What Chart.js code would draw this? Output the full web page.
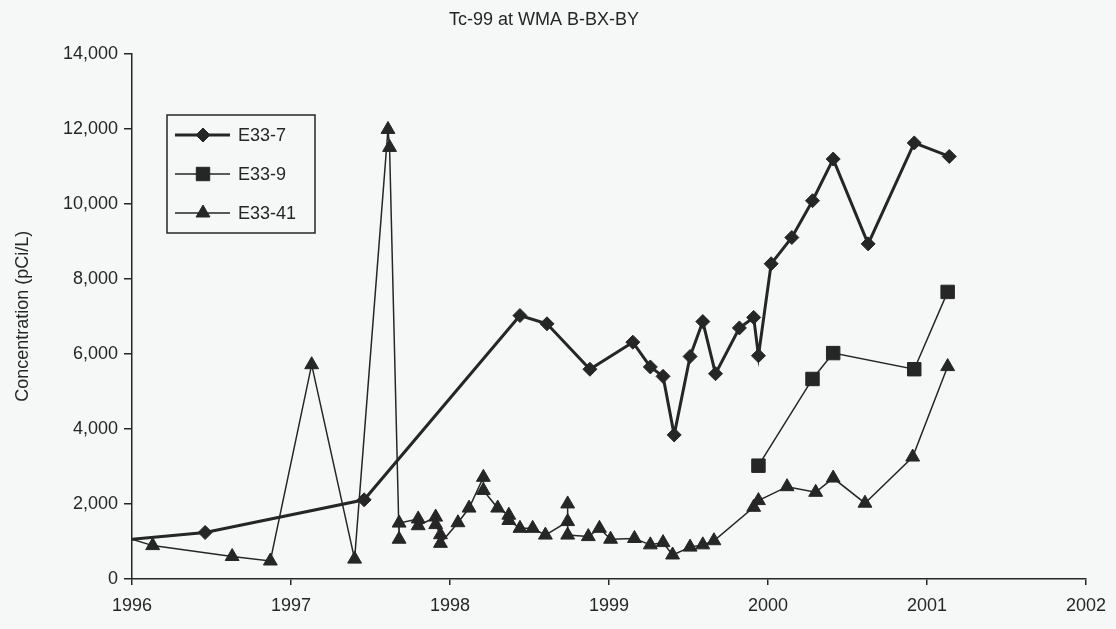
<!DOCTYPE html>
<html>
<head>
<meta charset="utf-8">
<title>Tc-99 at WMA B-BX-BY</title>
<script src="https://cdn.jsdelivr.net/npm/chart.js@4/dist/chart.umd.min.js"></script>
<style>
  html, body { margin: 0; padding: 0; background: #f6f8f7; }
  #wrap { width: 1116px; height: 629px; position: relative; }
</style>
</head>
<body>
<div id="wrap"><canvas id="chart"></canvas></div>
<script>
// sample dates as decimal years, concentration in pCi/L
const e33_7Dates = [1996.00, 1996.46, 1997.46, 1998.44, 1998.61, 1998.88, 1999.15, 1999.26, 1999.34, 1999.41,
                    1999.51, 1999.59, 1999.67, 1999.82, 1999.91, 1999.94, 2000.02, 2000.15, 2000.28, 2000.41,
                    2000.63, 2000.92, 2001.14];
const e33_7Values = [1060, 1240, 2110, 7020, 6800, 5590, 6310, 5650, 5400, 3840,
                     5930, 6860, 5470, 6690, 6970, 5950, 8400, 9100, 10080, 11190,
                     8930, 11620, 11260];

const e33_9Dates = [1999.94, 2000.28, 2000.41, 2000.92, 2001.13];
const e33_9Values = [3020, 5330, 6020, 5590, 7650];

const e33_41Dates = [1996.00, 1996.13, 1996.63, 1996.87, 1997.13, 1997.40, 1997.61, 1997.62, 1997.68, 1997.68,
                     1997.80, 1997.80, 1997.91, 1997.91, 1997.94, 1997.94, 1998.05, 1998.12, 1998.21, 1998.21,
                     1998.30, 1998.37, 1998.37, 1998.44, 1998.52, 1998.60, 1998.74, 1998.74, 1998.74, 1998.87,
                     1998.94, 1999.01, 1999.16, 1999.26, 1999.34, 1999.40, 1999.51, 1999.59, 1999.66, 1999.91,
                     1999.94, 2000.12, 2000.30, 2000.41, 2000.61, 2000.91, 2001.13];
const e33_41Values = [1060, 890, 600, 480, 5710, 530, 11980, 11500, 1060, 1490,
                      1600, 1420, 1650, 1450, 1180, 950, 1500, 1890, 2710, 2360,
                      1890, 1700, 1560, 1350, 1350, 1170, 1530, 2000, 1170, 1130,
                      1350, 1060, 1080, 910, 970, 640, 850, 910, 1020, 1910,
                      2090, 2460, 2310, 2690, 2020, 3250, 5660];

const seriesNames = ["E33-7", "E33-9", "E33-41"];

const INK = "#262626";
const PAPER = "#f6f8f7";
const FONT = "'Liberation Sans', Arial, sans-serif";

function toPoints(dates, values) {
    return dates.map((d, i) => ({ x: d, y: values[i] }));
}

// the first readings sit on the axis line and show no marker
function radiusOff(r) {
    return ctx => (ctx.raw && ctx.raw.x <= 1996 ? 0 : r);
}

const paperBg = {
    id: "paperBg",
    beforeDraw(chart) {
        const ctx = chart.ctx;
        ctx.save();
        ctx.fillStyle = PAPER;
        ctx.fillRect(0, 0, chart.width, chart.height);
        ctx.restore();
    }
};

// boxed legend inside the plot, upper left
const boxLegend = {
    id: "boxLegend",
    afterDraw(chart) {
        const ctx = chart.ctx;
        const x0 = 167, y0 = 115, w = 148, h = 118;
        ctx.save();
        ctx.fillStyle = PAPER;
        ctx.fillRect(x0, y0, w, h);
        ctx.strokeStyle = INK;
        ctx.lineWidth = 1.5;
        ctx.strokeRect(x0, y0, w, h);
        chart.data.datasets.forEach((ds, i) => {
            const y = y0 + 20 + i * 39;
            ctx.beginPath();
            ctx.moveTo(x0 + 8, y);
            ctx.lineTo(x0 + 63, y);
            ctx.lineWidth = ds.borderWidth;
            ctx.strokeStyle = ds.borderColor;
            ctx.stroke();
            ctx.fillStyle = INK;
            ctx.strokeStyle = INK;
            ctx.lineWidth = 1;
            Chart.helpers.drawPoint(ctx, {
                pointStyle: ds.pointStyle,
                radius: ds.legendRadius,
                borderWidth: 1,
                rotation: 0
            }, x0 + 36, y);
            ctx.fillStyle = INK;
            ctx.font = "18px " + FONT;
            ctx.textBaseline = "middle";
            ctx.fillText(ds.label, x0 + 71, y + 1);
        });
        ctx.restore();
    }
};

new Chart(document.getElementById("chart"), {
    type: "line",
    data: {
        datasets: [
            {
                label: seriesNames[0],
                data: toPoints(e33_7Dates, e33_7Values),
                borderColor: INK,
                backgroundColor: INK,
                borderWidth: 3,
                pointStyle: "rectRot",
                pointRadius: radiusOff(7),
                legendRadius: 7,
                pointBorderWidth: 1,
                tension: 0
            },
            {
                label: seriesNames[1],
                data: toPoints(e33_9Dates, e33_9Values),
                borderColor: INK,
                backgroundColor: INK,
                borderWidth: 1.5,
                pointStyle: "rect",
                pointRadius: 9.5,
                legendRadius: 9.5,
                pointBorderWidth: 1,
                tension: 0
            },
            {
                label: seriesNames[2],
                data: toPoints(e33_41Dates, e33_41Values),
                borderColor: INK,
                backgroundColor: INK,
                borderWidth: 1.5,
                pointStyle: "triangle",
                pointRadius: radiusOff(8),
                legendRadius: 8,
                pointBorderWidth: 1,
                tension: 0
            }
        ]
    },
    options: {
        responsive: true,
        maintainAspectRatio: false,
        animation: false,
        layout: { padding: { left: 0, right: 28, top: 0, bottom: 0 } },
        plugins: {
            legend: { display: false },
            tooltip: { enabled: false },
            title: {
                display: true,
                text: "Tc-99 at WMA B-BX-BY",
                color: INK,
                font: { family: FONT, size: 18, weight: "normal" },
                padding: { top: 9, bottom: 23 }
            }
        },
        scales: {
            x: {
                type: "linear",
                min: 1996,
                max: 2002,
                afterFit: s => { s.height = 50; },
                grid: { drawOnChartArea: false, drawTicks: true, tickLength: 6, color: INK, lineWidth: 1.5 },
                border: { display: true, color: INK, width: 1.5 },
                ticks: {
                    stepSize: 1,
                    color: INK,
                    padding: 10,
                    maxRotation: 0,
                    font: { family: FONT, size: 18 },
                    callback: v => String(v)
                }
            },
            y: {
                min: 0,
                max: 14000,
                afterFit: s => { s.width = 132; },
                grid: { drawOnChartArea: false, drawTicks: true, tickLength: 8, color: INK, lineWidth: 1.5 },
                border: { display: true, color: INK, width: 1.5 },
                title: {
                    display: true,
                    text: "Concentration (pCi/L)",
                    color: INK,
                    font: { family: FONT, size: 18 },
                    padding: { top: 12, bottom: 0 }
                },
                ticks: {
                    stepSize: 2000,
                    color: INK,
                    padding: 6,
                    font: { family: FONT, size: 18 },
                    callback: v => v.toLocaleString("en-US")
                }
            }
        }
    },
    plugins: [paperBg, boxLegend]
});
</script>
</body>
</html>
